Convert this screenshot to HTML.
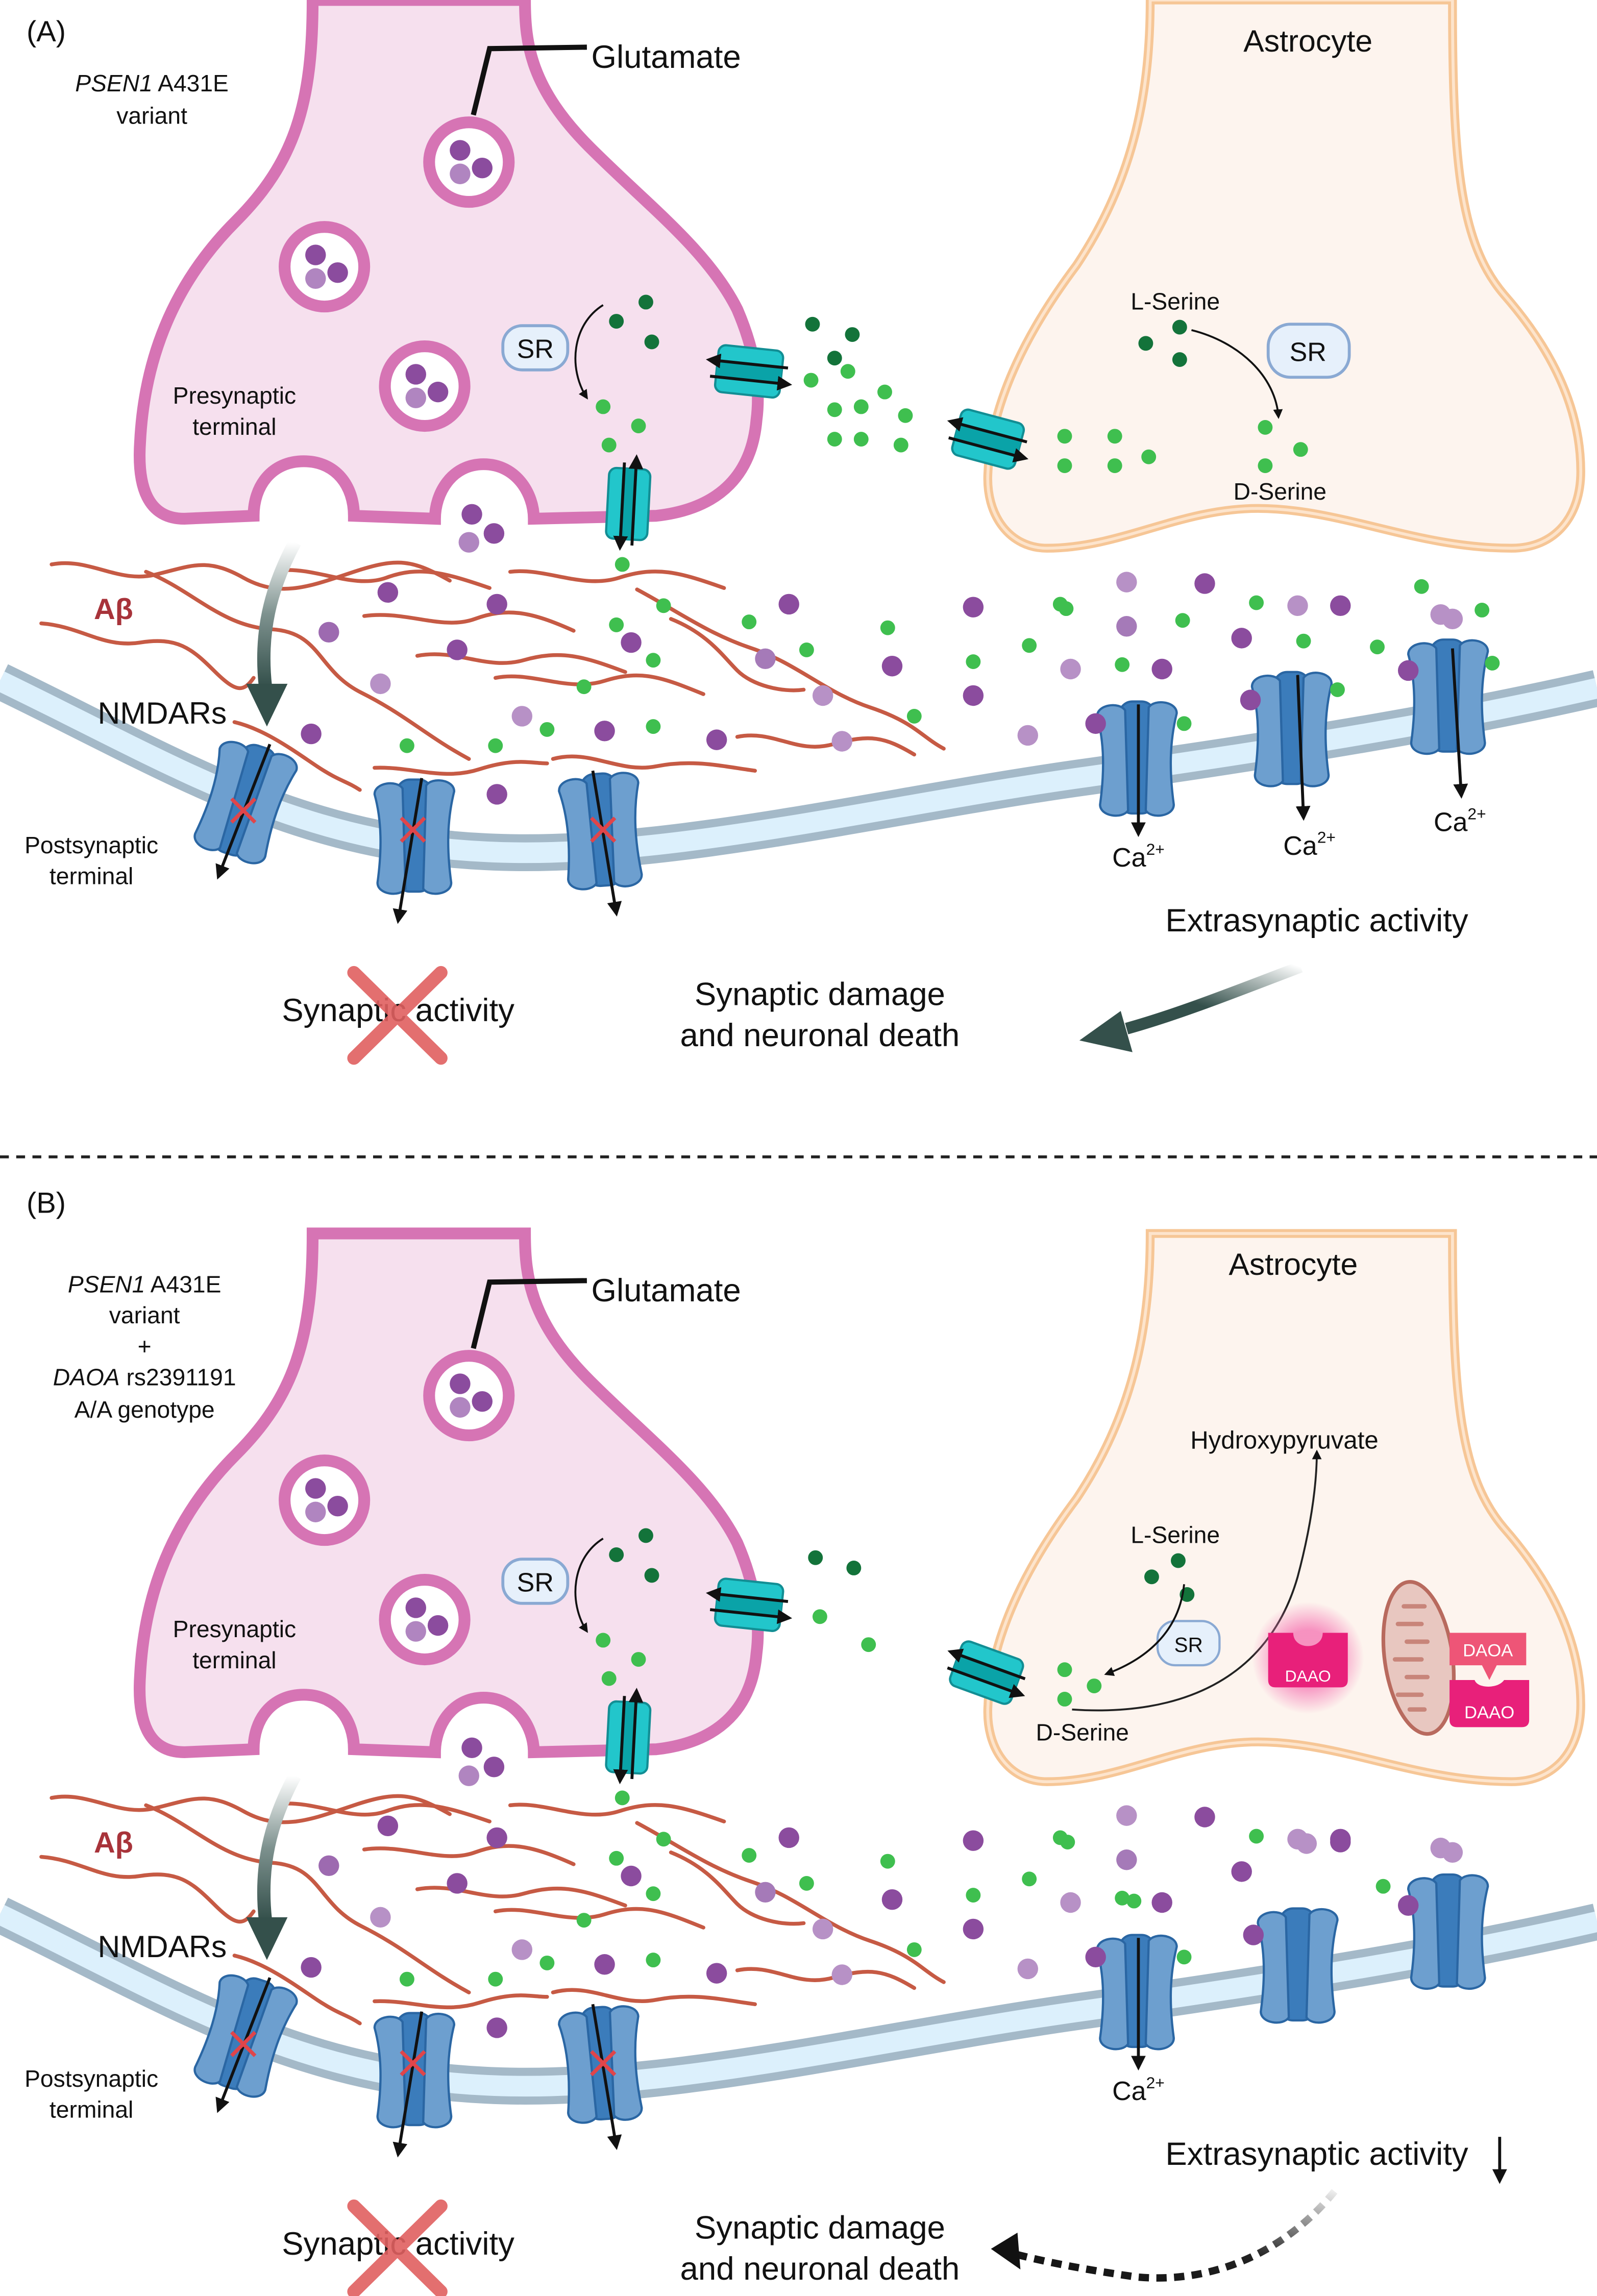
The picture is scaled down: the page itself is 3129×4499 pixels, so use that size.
<!DOCTYPE html>
<html><head><meta charset="utf-8"><style>
html,body{margin:0;padding:0;background:#fff}
svg{display:block}
text{font-family:"Liberation Sans",sans-serif;fill:#111}
</style></head><body>
<svg width="3129" height="4499" viewBox="0 0 1083 1558" preserveAspectRatio="none" xmlns="http://www.w3.org/2000/svg" xmlns:xlink="http://www.w3.org/1999/xlink">
<defs>
<marker id="ah" viewBox="0 0 10 10" refX="8" refY="5" markerWidth="5" markerHeight="5" orient="auto-start-reverse"><path d="M0,0L10,5L0,10z" fill="#111"/></marker>
<linearGradient id="gl" x1="0" y1="0" x2="0" y2="1"><stop offset="0" stop-color="#fff"/><stop offset="0.5" stop-color="#7d918e"/><stop offset="1" stop-color="#34504b"/></linearGradient>
<linearGradient id="gr" x1="1" y1="0" x2="0" y2="1"><stop offset="0" stop-color="#fff"/><stop offset="0.6" stop-color="#34504b"/><stop offset="1" stop-color="#34504b"/></linearGradient>
<linearGradient id="gd" x1="1" y1="0" x2="0" y2="1"><stop offset="0" stop-color="#eee"/><stop offset="0.5" stop-color="#222"/><stop offset="1" stop-color="#111"/></linearGradient>
<radialGradient id="glow"><stop offset="0.5" stop-color="#f57ab5" stop-opacity="0.8"/><stop offset="1" stop-color="#f57ab5" stop-opacity="0"/></radialGradient>
<g id="rec">
<rect x="-12" y="-38" width="24" height="76" rx="9" fill="#3b7cbb" stroke="#2a66a3" stroke-width="1.5"/>
<path d="M-27,-28 C-27,-36 -12,-38 -8,-32 L-6,36 C-10,42 -25,40 -25,32 C-22,10 -22,-10 -27,-28Z" fill="#6d9fcf" stroke="#2a66a3" stroke-width="1.5"/>
<path d="M27,-30 C27,-38 12,-40 8,-34 L6,36 C10,42 25,40 25,32 C22,10 22,-10 27,-30Z" fill="#6d9fcf" stroke="#2a66a3" stroke-width="1.5"/>
</g>
<g id="trans">
<rect x="-22" y="-16" width="44" height="32" rx="5" fill="#22c6cb" stroke="#128e94" stroke-width="1.5"/>
<rect x="-22" y="-6" width="44" height="12" fill="#0aa3a8"/>
<line x1="-28" y1="-5" x2="26" y2="-5" stroke="#111" stroke-width="2" marker-start="url(#ah)"/>
<line x1="-26" y1="6" x2="28" y2="6" stroke="#111" stroke-width="2" marker-end="url(#ah)"/>
</g>
<g id="vtrans">
<rect x="-14" y="-24" width="28" height="48" rx="5" fill="#22c6cb" stroke="#128e94" stroke-width="1.5"/>
<rect x="-5" y="-24" width="10" height="48" fill="#0aa3a8"/>
<line x1="-4" y1="-28" x2="-4" y2="30" stroke="#111" stroke-width="2" marker-end="url(#ah)"/>
<line x1="4" y1="-32" x2="4" y2="28" stroke="#111" stroke-width="2" marker-start="url(#ah)"/>
</g>
<g id="ves">
<circle r="27" fill="#fff" stroke="#d674b4" stroke-width="8"/>
<circle cx="-6" cy="-8" r="7" fill="#8b4c9e"/><circle cx="-6" cy="8" r="7" fill="#b085c0"/><circle cx="9" cy="4" r="7" fill="#8b4c9e"/>
</g>
<g id="cross"><line x1="-8" y1="-8" x2="8" y2="8" stroke="#e0454a" stroke-width="2.5"/><line x1="8" y1="-8" x2="-8" y2="8" stroke="#e0454a" stroke-width="2.5"/></g>

<!-- common synaptic part -->
<g id="common">
<!-- presynaptic -->
<path d="M212,0 L356,0 C356,30 360,60 400,100 C440,140 480,170 500,210 C515,245 515,270 513,285 C510,320 490,345 445,350 L362,352 C362,335 350,315 328,315 C306,315 295,335 295,352 L240,350 C240,330 228,313 206,313 C184,313 172,330 172,350 L125,352 C100,352 93,330 95,300 C98,240 120,190 160,150 C200,110 212,70 212,0Z" fill="#f6e0ee" stroke="#d674b4" stroke-width="8"/>
<use href="#ves" x="318" y="110"/><use href="#ves" x="220" y="181"/><use href="#ves" x="288" y="262"/>
<circle cx="320" cy="349" r="7" fill="#8b4c9e"/><circle cx="318" cy="368" r="7" fill="#b085c0"/><circle cx="335" cy="362" r="7" fill="#8b4c9e"/>
<polyline points="321,78 332,33 398,32" fill="none" stroke="#111" stroke-width="3.5"/>
<text x="401" y="46" font-size="22">Glutamate</text>
<text x="159" y="274" font-size="16" text-anchor="middle">Presynaptic</text>
<text x="159" y="295" font-size="16" text-anchor="middle">terminal</text>
<rect x="341" y="221" width="44" height="30" rx="13" fill="#e6f0fb" stroke="#8aa9d3" stroke-width="2"/>
<text x="363" y="243" font-size="18" text-anchor="middle">SR</text>
<path d="M409,207 C388,220 385,250 398,270" fill="none" stroke="#111" stroke-width="1.3" marker-end="url(#ah)"/>
<circle cx="438" cy="205" r="5" fill="#13733a"/><circle cx="418" cy="218" r="5" fill="#13733a"/><circle cx="442" cy="232" r="5" fill="#13733a"/>
<circle cx="409" cy="276" r="5" fill="#3fbf4f"/><circle cx="433" cy="289" r="5" fill="#3fbf4f"/><circle cx="413" cy="302" r="5" fill="#3fbf4f"/>
<use href="#trans" transform="translate(508,252) rotate(6)"/>
<use href="#vtrans" transform="translate(426,342) rotate(3)"/>
<circle cx="422" cy="383" r="5" fill="#3fbf4f"/>
<!-- membrane -->
<path d="M0,462 C120,520 200,572 330,578 C450,584 600,546 738,527 C900,504 1000,486 1083,467" fill="none" stroke="#a4b9c8" stroke-width="25"/>
<path d="M0,462 C120,520 200,572 330,578 C450,584 600,546 738,527 C900,504 1000,486 1083,467" fill="none" stroke="#dcf0fc" stroke-width="14"/>
<!-- fibrils -->
<g fill="none" stroke="#c65a44" stroke-width="2.6" stroke-linecap="round">
<path d="M35,383 C60,378 80,396 105,390 S140,378 165,392 S210,398 240,388 S280,380 305,394"/>
<path d="M99,388 C130,400 150,425 184,427 S215,455 245,470 S290,500 318,515"/>
<path d="M28,423 C55,425 70,440 95,436 S130,440 145,455 S165,470 172,460"/>
<path d="M191,387 C215,385 240,400 262,392 S300,388 332,399"/>
<path d="M247,418 C275,414 300,428 322,420 S360,415 389,428"/>
<path d="M283,445 C310,440 330,455 355,448 S395,445 424,456"/>
<path d="M336,460 C360,455 385,470 410,462 S450,460 477,471"/>
<path d="M346,388 C370,385 395,400 420,392 S460,388 491,399"/>
<path d="M159,490 C180,495 200,510 215,520 S235,530 244,536"/>
<path d="M254,521 C280,520 300,530 325,522 S360,518 371,518"/>
<path d="M375,515 C400,508 420,525 445,520 S490,520 512,523"/>
<path d="M432,400 C460,415 480,430 510,440 S560,470 590,480 S625,500 640,508"/>
<path d="M500,500 C525,495 540,512 565,505 S600,500 620,512"/>
<path d="M455,420 C480,430 490,445 500,455 S530,470 545,468"/>
</g>
<!-- left particles -->
<g fill="#8b4c9e">
<circle cx="263" cy="402" r="7"/><circle cx="337" cy="410" r="7"/><circle cx="223" cy="429" r="7" fill="#9d6ab0"/><circle cx="310" cy="441" r="7"/><circle cx="428" cy="436" r="7"/><circle cx="535" cy="410" r="7"/><circle cx="519" cy="447" r="7" fill="#a57ab8"/><circle cx="258" cy="464" r="7" fill="#b791c6"/><circle cx="354" cy="486" r="7" fill="#b791c6"/><circle cx="410" cy="496" r="7"/><circle cx="486" cy="502" r="7"/><circle cx="211" cy="498" r="7"/><circle cx="337" cy="539" r="7"/>
<circle cx="605" cy="452" r="7"/><circle cx="558" cy="472" r="7" fill="#b791c6"/><circle cx="660" cy="472" r="7"/><circle cx="571" cy="503" r="7" fill="#b791c6"/><circle cx="697" cy="499" r="7" fill="#b791c6"/>
</g>
<g fill="#3fbf4f">
<circle cx="450" cy="411" r="5"/><circle cx="418" cy="424" r="5"/><circle cx="443" cy="448" r="5"/><circle cx="396" cy="466" r="5"/><circle cx="371" cy="495" r="5"/><circle cx="443" cy="493" r="5"/><circle cx="276" cy="506" r="5"/><circle cx="336" cy="506" r="5"/><circle cx="547" cy="441" r="5"/><circle cx="620" cy="486" r="5"/><circle cx="602" cy="426" r="5"/><circle cx="508" cy="422" r="5"/>
</g>
<!-- synaptic receptors -->
<use href="#rec" transform="translate(166,543) rotate(18)"/>
<use href="#rec" transform="translate(281,567)"/>
<use href="#rec" transform="translate(408,563) rotate(-4)"/>
<line x1="183" y1="505" x2="148" y2="595" stroke="#111" stroke-width="2" marker-end="url(#ah)"/>
<line x1="286" y1="528" x2="270" y2="625" stroke="#111" stroke-width="2" marker-end="url(#ah)"/>
<line x1="402" y1="523" x2="418" y2="620" stroke="#111" stroke-width="2" marker-end="url(#ah)"/>
<use href="#cross" x="165" y="550"/><use href="#cross" x="280" y="563"/><use href="#cross" x="409" y="563"/>
<!-- left labels -->
<text x="77" y="420" font-size="20" font-weight="bold" fill="#a8333a" text-anchor="middle" style="fill:#a8333a">Aβ</text>
<text x="110" y="491" font-size="21" text-anchor="middle">NMDARs</text>
<text x="62" y="579" font-size="16" text-anchor="middle">Postsynaptic</text>
<text x="62" y="600" font-size="16" text-anchor="middle">terminal</text>
<path d="M200,368 C183,400 176,430 180,466" fill="none" stroke="url(#gl)" stroke-width="9"/>
<polygon points="167,464 195,464 181,493" fill="#34504b"/>
<!-- bottom -->
<text x="270" y="693" font-size="22" text-anchor="middle">Synaptic activity</text>
<g stroke="#e06060" stroke-width="9" stroke-linecap="round" opacity="0.9"><line x1="240" y1="660" x2="299" y2="718"/><line x1="299" y1="660" x2="240" y2="718"/></g>
<text x="556" y="682" font-size="22" text-anchor="middle">Synaptic damage</text>
<text x="556" y="710" font-size="22" text-anchor="middle">and neuronal death</text>
<!-- astrocyte -->
<path d="M780,0 C780,60 770,120 730,180 C700,220 672,270 670,320 C668,350 685,372 710,372 C760,372 800,345 853,345 C910,345 960,372 1025,372 C1055,372 1072,350 1072,320 C1072,280 1055,240 1020,200 C990,165 985,110 985,0Z" fill="#fdf4ee" stroke="#f6c696" stroke-width="6"/>
<path d="M780,0 C780,60 770,120 730,180 C700,220 672,270 670,320 C668,350 685,372 710,372 C760,372 800,345 853,345 C910,345 960,372 1025,372 C1055,372 1072,350 1072,320 C1072,280 1055,240 1020,200 C990,165 985,110 985,0Z" fill="none" stroke="#fde4cc" stroke-width="2"/>
<!-- first extrasynaptic receptor -->
<use href="#rec" transform="translate(771,514)"/>
<circle cx="743" cy="491" r="7" fill="#8b4c9e"/><circle cx="803" cy="491" r="5" fill="#3fbf4f"/>
<line x1="772" y1="478" x2="772" y2="566" stroke="#111" stroke-width="2" marker-end="url(#ah)"/>
<text x="772" y="588" font-size="18" text-anchor="middle">Ca<tspan font-size="11" dy="-8">2+</tspan></text>
<!-- common right particles -->
<g fill="#8b4c9e">
<circle cx="660" cy="412" r="7"/><circle cx="817" cy="396" r="7"/><circle cx="764" cy="425" r="7" fill="#a57ab8"/><circle cx="726" cy="454" r="7" fill="#b791c6"/><circle cx="788" cy="454" r="7"/><circle cx="842" cy="433" r="7"/><circle cx="764" cy="395" r="7" fill="#b791c6"/><circle cx="880" cy="411" r="7" fill="#b791c6"/><circle cx="909" cy="411" r="7"/><circle cx="977" cy="417" r="7" fill="#b791c6"/>
</g>
<g fill="#3fbf4f"><circle cx="719" cy="410" r="5"/><circle cx="761" cy="451" r="5"/><circle cx="698" cy="438" r="5"/><circle cx="660" cy="449" r="5"/><circle cx="852" cy="409" r="5"/></g>
</g>
</defs>

<!-- PANEL A -->
<use href="#common"/>
<text x="18" y="28" font-size="20">(A)</text>
<text x="103" y="62" font-size="16" text-anchor="middle"><tspan font-style="italic">PSEN1</tspan> A431E</text>
<text x="103" y="84" font-size="16" text-anchor="middle">variant</text>
<text x="887" y="35" font-size="21" text-anchor="middle">Astrocyte</text>
<text x="797" y="210" font-size="16" text-anchor="middle">L-Serine</text>
<circle cx="777" cy="233" r="5" fill="#13733a"/><circle cx="800" cy="222" r="5" fill="#13733a"/><circle cx="800" cy="244" r="5" fill="#13733a"/>
<rect x="860" y="220" width="55" height="36" rx="15" fill="#e6f0fb" stroke="#8aa9d3" stroke-width="2"/>
<text x="887" y="245" font-size="18" text-anchor="middle">SR</text>
<path d="M808,224 C840,232 865,255 867,283" fill="none" stroke="#111" stroke-width="1.3" marker-end="url(#ah)"/>
<circle cx="858" cy="290" r="5" fill="#3fbf4f"/><circle cx="882" cy="305" r="5" fill="#3fbf4f"/><circle cx="858" cy="316" r="5" fill="#3fbf4f"/>
<text x="868" y="339" font-size="16" text-anchor="middle">D-Serine</text>
<use href="#trans" transform="translate(670,298) rotate(15)"/>
<g fill="#3fbf4f"><circle cx="722" cy="296" r="5"/><circle cx="756" cy="296" r="5"/><circle cx="779" cy="310" r="5"/><circle cx="722" cy="316" r="5"/><circle cx="756" cy="316" r="5"/>
<circle cx="550" cy="258" r="5"/><circle cx="575" cy="252" r="5"/><circle cx="600" cy="266" r="5"/><circle cx="566" cy="278" r="5"/><circle cx="584" cy="276" r="5"/><circle cx="614" cy="282" r="5"/><circle cx="566" cy="298" r="5"/><circle cx="584" cy="298" r="5"/><circle cx="611" cy="302" r="5"/>
<circle cx="884" cy="435" r="5"/><circle cx="934" cy="439" r="5"/><circle cx="802" cy="421" r="5"/><circle cx="964" cy="398" r="5"/><circle cx="1005" cy="414" r="5"/><circle cx="723" cy="413" r="5"/></g>
<g fill="#13733a"><circle cx="551" cy="220" r="5"/><circle cx="578" cy="227" r="5"/><circle cx="566" cy="243" r="5"/></g>
<circle cx="985" cy="420" r="7" fill="#b791c6"/>
<use href="#rec" transform="translate(876,494)"/>
<circle cx="848" cy="475" r="7" fill="#8b4c9e"/><circle cx="907" cy="468" r="5" fill="#3fbf4f"/>
<line x1="880" y1="458" x2="884" y2="555" stroke="#111" stroke-width="2" marker-end="url(#ah)"/>
<text x="888" y="580" font-size="18" text-anchor="middle">Ca<tspan font-size="11" dy="-8">2+</tspan></text>
<use href="#rec" transform="translate(982,472)"/>
<circle cx="955" cy="455" r="7" fill="#8b4c9e"/><circle cx="1012" cy="450" r="5" fill="#3fbf4f"/>
<line x1="985" y1="440" x2="991" y2="540" stroke="#111" stroke-width="2" marker-end="url(#ah)"/>
<text x="990" y="564" font-size="18" text-anchor="middle">Ca<tspan font-size="11" dy="-8">2+</tspan></text>
<text x="893" y="632" font-size="22" text-anchor="middle">Extrasynaptic activity</text>
<path d="M882,656 C840,672 800,688 764,698" fill="none" stroke="url(#gr)" stroke-width="8"/>
<polygon points="760,686 768,714 732,706" fill="#34504b"/>

<line x1="0" y1="785" x2="1083" y2="785" stroke="#222" stroke-width="2" stroke-dasharray="6,5"/>

<!-- PANEL B -->
<use href="#common" y="837"/>
<text x="18" y="823" font-size="20">(B)</text>
<text x="98" y="877" font-size="16" text-anchor="middle"><tspan font-style="italic">PSEN1</tspan> A431E</text>
<text x="98" y="898" font-size="16" text-anchor="middle">variant</text>
<text x="98" y="919" font-size="16" text-anchor="middle">+</text>
<text x="98" y="940" font-size="16" text-anchor="middle"><tspan font-style="italic">DAOA</tspan> rs2391191</text>
<text x="98" y="962" font-size="16" text-anchor="middle">A/A genotype</text>
<text x="877" y="865" font-size="21" text-anchor="middle">Astrocyte</text>
<text x="871" y="983" font-size="17" text-anchor="middle">Hydroxypyruvate</text>
<text x="797" y="1047" font-size="16" text-anchor="middle">L-Serine</text>
<circle cx="799" cy="1059" r="5" fill="#13733a"/><circle cx="781" cy="1070" r="5" fill="#13733a"/><circle cx="805" cy="1082" r="5" fill="#13733a"/>
<rect x="785" y="1100" width="42" height="30" rx="12" fill="#e6f0fb" stroke="#8aa9d3" stroke-width="1.5"/>
<text x="806" y="1121" font-size="14" text-anchor="middle">SR</text>
<path d="M803,1075 C800,1105 780,1125 750,1136" fill="none" stroke="#111" stroke-width="1.3" marker-end="url(#ah)"/>
<path d="M727,1160 C800,1165 860,1140 880,1070 C888,1040 893,1010 893,985" fill="none" stroke="#222" stroke-width="1.3" marker-end="url(#ah)"/>
<circle cx="722" cy="1133" r="5" fill="#3fbf4f"/><circle cx="742" cy="1144" r="5" fill="#3fbf4f"/><circle cx="722" cy="1153" r="5" fill="#3fbf4f"/>
<text x="734" y="1181" font-size="16" text-anchor="middle">D-Serine</text>
<use href="#trans" transform="translate(669,1135) rotate(20)"/>
<circle cx="887" cy="1125" r="38" fill="url(#glow)"/>
<path d="M860,1108 L877,1108 C877,1120 897,1120 897,1108 L914,1108 L914,1140 Q914,1145 909,1145 L865,1145 Q860,1145 860,1140Z" fill="#e8207a"/>
<text x="887" y="1141" font-size="11" text-anchor="middle" style="fill:#fff">DAAO</text>
<ellipse cx="962" cy="1125" rx="23" ry="52" fill="#e8c7c0" stroke="#b86a5e" stroke-width="2.5" transform="rotate(-8 962 1125)"/>
<path d="M952,1090 h14 M948,1102 h16 M954,1114 h14 M946,1126 h18 M954,1138 h14 M948,1150 h16 M956,1160 h10" stroke="#c8857a" stroke-width="3" stroke-linecap="round"/>
<path d="M983,1108 L1035,1108 L1035,1130 L1015,1130 L1010,1140 L1005,1130 L983,1130Z" fill="#ee5577"/>
<text x="1009" y="1124" font-size="12" text-anchor="middle" style="fill:#fff">DAOA</text>
<path d="M983,1140 L1000,1140 C1002,1146 1016,1146 1020,1140 L1037,1140 L1037,1167 Q1037,1172 1032,1172 L988,1172 Q983,1172 983,1167Z" fill="#e8207a"/>
<text x="1010" y="1166" font-size="12" text-anchor="middle" style="fill:#fff">DAAO</text>
<g fill="#13733a"><circle cx="553" cy="1057" r="5"/><circle cx="579" cy="1064" r="5"/></g>
<g fill="#3fbf4f"><circle cx="556" cy="1097" r="5"/><circle cx="589" cy="1116" r="5"/><circle cx="769" cy="1290" r="5"/><circle cx="938" cy="1280" r="5"/><circle cx="724" cy="1250" r="5"/></g>
<g fill="#8b4c9e"><circle cx="909" cy="1250" r="7"/><circle cx="985" cy="1257" r="7" fill="#b791c6"/><circle cx="886" cy="1251" r="7" fill="#b791c6"/></g>
<use href="#rec" transform="translate(880,1333)"/>
<circle cx="850" cy="1313" r="7" fill="#8b4c9e"/>
<use href="#rec" transform="translate(982,1310)"/>
<circle cx="955" cy="1293" r="7" fill="#8b4c9e"/>
<text x="893" y="1469" font-size="22" text-anchor="middle">Extrasynaptic activity</text>
<line x1="1017" y1="1450" x2="1017" y2="1480" stroke="#111" stroke-width="2" marker-end="url(#ah)"/>
<path d="M905,1487 C870,1530 820,1550 770,1545 C735,1540 710,1535 690,1530" fill="none" stroke="url(#gd)" stroke-width="5" stroke-dasharray="7,5"/>
<polygon points="672,1526 690,1515 692,1540" fill="#111"/>
</svg>
</body></html>
